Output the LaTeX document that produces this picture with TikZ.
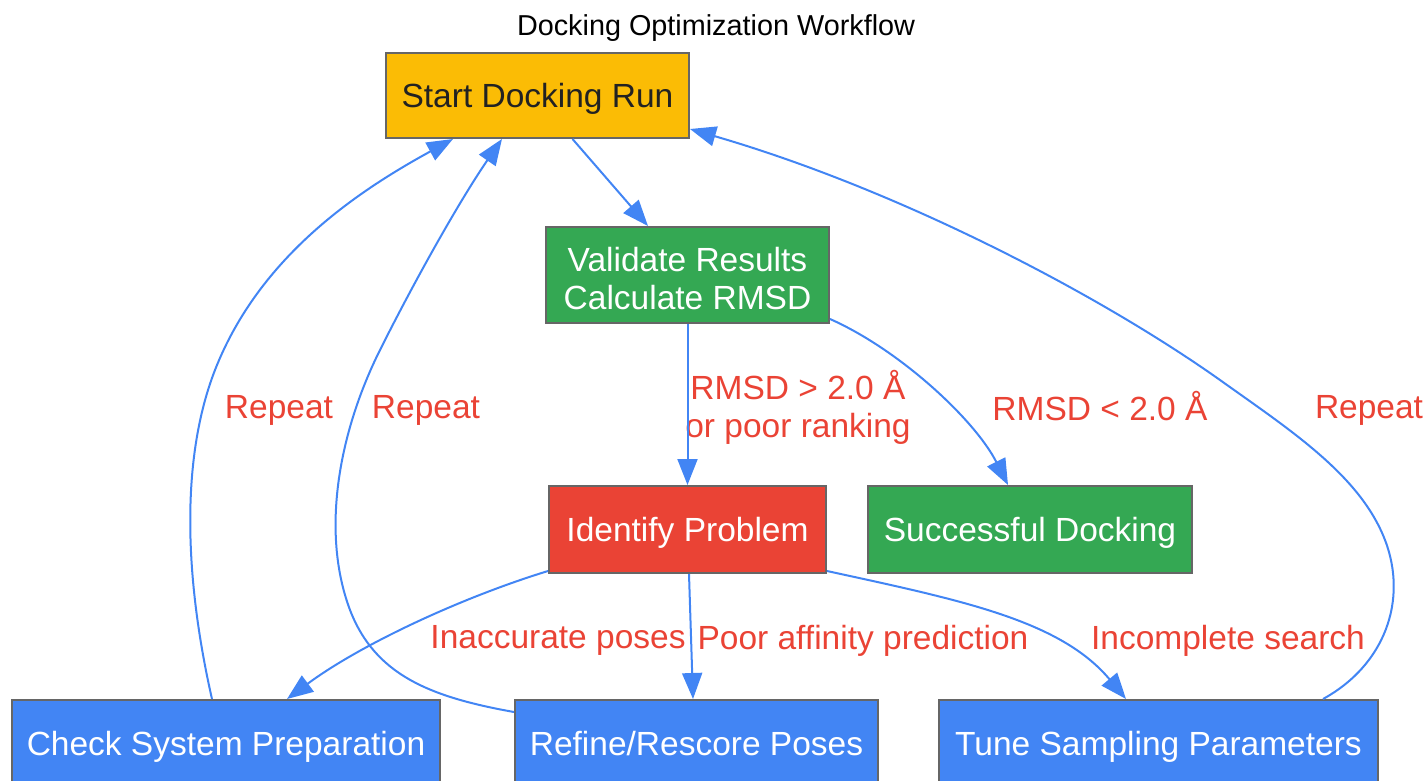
\documentclass[tikz,border=0pt]{standalone}
\usepackage{fontspec}
\setmainfont{Liberation Sans}
\usetikzlibrary{arrows.meta}

\definecolor{gyellow}{HTML}{FBBC05}
\definecolor{ggreen}{HTML}{34A853}
\definecolor{gred}{HTML}{EA4335}
\definecolor{gblue}{HTML}{4285F4}
\definecolor{gborder}{HTML}{666666}
\definecolor{gtext}{HTML}{222222}

\begin{document}
\begin{tikzpicture}[x=1pt, y=-1pt,
	box/.style={rectangle, draw=gborder, line width=2pt, inner sep=0pt, align=center, text depth=0pt,
		font=\fontsize{33.5}{38.5}\selectfont, text=white},
	lbl/.style={text=gred, align=center, inner sep=0pt, text depth=0pt, font=\fontsize{33.5}{38.5}\selectfont},
	flow/.style={draw=gblue, line width=2pt, -{Triangle[length=26pt,width=20pt]}}]
			\useasboundingbox (0,0) rectangle (1428,780);
			% Define nodes
			\node[text depth=0pt, font=\fontsize{28.8}{33}\selectfont] (title) at (716,25) {Docking Optimization Workflow};
			\node[box, fill=gyellow, text=gtext, minimum width=303, minimum height=85] (start) at (537.5,95.5) {Start Docking Run};
			\node[box, fill=ggreen, text height=69pt, minimum width=283, minimum height=96] (validate) at (687.5,275) {Validate Results\\Calculate RMSD};
			\node[box, fill=gred, minimum width=277, minimum height=87] (identify) at (687.5,529.5) {Identify Problem};
			\node[box, fill=ggreen, minimum width=324, minimum height=87] (success) at (1030,529.5) {Successful Docking};
			\node[box, fill=gblue, minimum width=428, minimum height=87] (check) at (226,743.5) {Check System Preparation};
			\node[box, fill=gblue, minimum width=363, minimum height=87] (refine) at (696.5,743.5) {Refine/Rescore Poses};
			\node[box, fill=gblue, minimum width=439, minimum height=87] (tune) at (1158.5,743.5) {Tune Sampling Parameters};

			% Edge labels
			\node[lbl] (badrmsd) at (798,404) {RMSD > 2.0 Å\\or poor ranking};
			\node[lbl] (goodrmsd) at (1100,406) {RMSD < 2.0 Å};
			\node[lbl] (poses) at (558,637) {Inaccurate poses};
			\node[lbl] (affinity) at (863,637) {Poor affinity prediction};
			\node[lbl] (search) at (1228,637) {Incomplete search};
			\node[lbl] (repeatA) at (279,407) {Repeat};
			\node[lbl] (repeatB) at (426,407) {Repeat};
			\node[lbl] (repeatC) at (1369,407) {Repeat};

			% Connect nodes
			\draw[flow] ([xshift=35]start.south) -- ([xshift=-39.5]validate.north);
			\draw[flow] (validate.south) -- (identify.north);
			\draw[flow] ([yshift=5]validate.south east) .. controls (900,350) and (975,420) .. ([xshift=-22]success.north);
			\draw[flow] ([yshift=3]identify.south west) .. controls (460,598) and (360,645) .. ([xshift=61]check.north);
			\draw[flow] ([xshift=1.5]identify.south) -- ([xshift=-3.5]refine.north);
			\draw[flow] ([yshift=3]identify.south east) .. controls (960,600) and (1060,620) .. ([xshift=-32.5]tune.north);
			\draw[flow] ([xshift=-14]check.north) .. controls (185,580) and (180,460) .. (215,370)
				.. controls (260,255) and (360,190) .. ([xshift=-84.5]start.south);
			\draw[flow] ([yshift=-13]refine.north west) .. controls (430,697) and (375,675) .. (350,610)
				.. controls (320,530) and (340,430) .. (380,350)
				.. controls (415,280) and (460,200) .. ([xshift=-35.5]start.south);
			\draw[flow] ([xshift=164.5]tune.north) .. controls (1385,665) and (1408,600) .. (1385,540)
				.. controls (1360,475) and (1290,430) .. (1220,380)
				.. controls (1100,295) and (900,190) .. ([yshift=10]start.south east);
		\end{tikzpicture}
\end{document}
